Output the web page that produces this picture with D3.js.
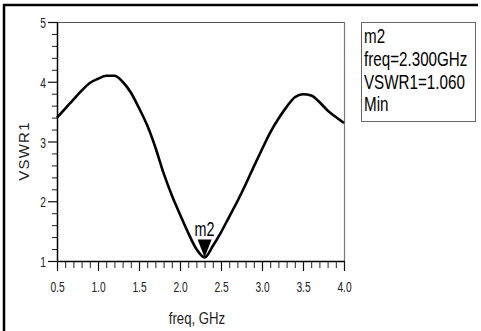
<!DOCTYPE html>
<html>
<head>
<meta charset="utf-8">
<script src="https://cdn.jsdelivr.net/npm/d3@7"></script>
<style>
html,body{margin:0;padding:0;background:#fff;}
svg{display:block;}
text{font-family:"Liberation Sans",Arial,sans-serif;}
</style>
</head>
<body>
<svg id="chart" width="481" height="331"></svg>
<script>
// ---- data ----
const freq = [0.5,0.6,0.7,0.8,0.9,1.0,1.1,1.2,1.3,1.4,1.5,1.6,1.7,1.8,1.9,2.0,2.1,2.2,2.3,2.4,2.5,2.6,2.7,2.8,2.9,3.0,3.1,3.2,3.3,3.4,3.5,3.6,3.7,3.8,3.9,4.0];
const vswr = [3.40,3.55,3.70,3.85,3.98,4.05,4.10,4.10,4.00,3.82,3.56,3.27,2.90,2.47,2.10,1.78,1.47,1.20,1.06,1.25,1.48,1.74,2.00,2.28,2.58,2.87,3.15,3.38,3.58,3.74,3.79,3.77,3.66,3.52,3.41,3.31];
const xTicks = [0.5,1.0,1.5,2.0,2.5,3.0,3.5,4.0];
const xTickLabels = ["0.5","1.0","1.5","2.0","2.5","3.0","3.5","4.0"];
const yTicks = [1,2,3,4,5];
const yTickLabels = ["1","2","3","4","5"];
const markerName = "m2";
const markerFreq = 2.3;
const markerValue = 1.06;
const legendLines = ["m2","freq=2.300GHz","VSWR1=1.060","Min"];
const xTitle = "freq, GHz";
const yTitle = "VSWR1";

// ---- layout ----
const svg = d3.select("#chart");
const L = 57, R = 344, T = 22, B = 261;
const x = d3.scaleLinear().domain([0.5,4.0]).range([L,R]);
const y = d3.scaleLinear().domain([1,5]).range([B,T]);

// condensed text helper: horizontal scale about the anchor point
function narrowText(sel, px, py, sx) {
  return sel.attr("x", px / sx).attr("y", py).attr("transform", `scale(${sx},1)`);
}

// outer frame (black, top & left)
svg.append("line").attr("x1",3).attr("x2",478).attr("y1",5).attr("y2",5).attr("stroke","#000").attr("stroke-width",2.5);
svg.append("line").attr("x1",4).attr("x2",4).attr("y1",4).attr("y2",331).attr("stroke","#000").attr("stroke-width",2.5);

// plot frame top/right
svg.append("line").attr("x1",L).attr("x2",R).attr("y1",T+0.5).attr("y2",T+0.5).attr("stroke","#555").attr("stroke-width",1.2);
svg.append("line").attr("x1",R+0.5).attr("x2",R+0.5).attr("y1",T).attr("y2",B).attr("stroke","#777").attr("stroke-width",1.2);

// minor ticks
const xMinor = d3.range(5,41).map(d=>d/10).filter(v=>!xTicks.some(t=>Math.abs(t-v)<1e-9));
const yMinor = d3.range(5,26).map(d=>d/5).filter(v=>!yTicks.some(t=>Math.abs(t-v)<1e-9));

svg.append("g").attr("transform",`translate(0,${B})`)
  .call(d3.axisBottom(x).tickValues(xMinor).tickSize(7).tickFormat(""))
  .call(g=>g.select(".domain").remove())
  .selectAll("line").attr("stroke","#222").attr("stroke-width",1);
svg.append("g").attr("transform",`translate(${L},0)`)
  .call(d3.axisLeft(y).tickValues(yMinor).tickSize(5).tickFormat(""))
  .call(g=>g.select(".domain").remove())
  .selectAll("line").attr("stroke","#222").attr("stroke-width",1);

// major axes
const sxT = 0.66;
const gx = svg.append("g").attr("transform",`translate(0,${B})`)
  .call(d3.axisBottom(x).tickValues(xTicks).tickSize(10).tickSizeOuter(0).tickFormat((d,i)=>xTickLabels[i]));
gx.select(".domain").attr("stroke","#000").attr("stroke-width",1.5);
gx.selectAll(".tick line").attr("stroke","#111").attr("stroke-width",1.2);
gx.selectAll(".tick text").attr("y",31).attr("dy",null).attr("fill","#222")
  .style("font-size","15.5px").attr("transform",`scale(${sxT},1)`);

const gy = svg.append("g").attr("transform",`translate(${L},0)`)
  .call(d3.axisLeft(y).tickValues(yTicks).tickSize(9).tickSizeOuter(0).tickFormat((d,i)=>yTickLabels[i]));
gy.select(".domain").attr("stroke","#000").attr("stroke-width",1.5);
gy.selectAll(".tick line").attr("stroke","#111").attr("stroke-width",1.2);
gy.selectAll(".tick text").attr("x",-11/sxT).attr("dy","0.36em").attr("fill","#222")
  .style("font-size","15.5px").attr("transform",`scale(${sxT},1)`);

// titles
narrowText(svg.append("text"), 197, 324, 0.8).attr("text-anchor","middle")
  .style("font-size","16.5px").attr("fill","#222").text(xTitle);
svg.append("text").attr("transform","translate(29,151) rotate(-90)").attr("text-anchor","middle")
  .style("font-size","15px").style("letter-spacing","1.2px").attr("fill","#222").text(yTitle);

// curve
const pts = freq.map((f,i)=>[f,vswr[i]]);
svg.append("path").datum(pts)
  .attr("d",d3.line().x(d=>x(d[0])).y(d=>y(d[1])).curve(d3.curveMonotoneX))
  .attr("fill","none").attr("stroke","#000").attr("stroke-width",2.6).attr("stroke-linejoin","round");

// marker
const mx = x(markerFreq), my = y(markerValue);
svg.append("path").attr("d",`M${mx-7},${my-18}L${mx+7},${my-18}L${mx},${my}Z`).attr("fill","#000");
narrowText(svg.append("text"), mx, my-21, 0.72).attr("text-anchor","middle")
  .style("font-size","20px").attr("fill","#000").text(markerName);

// legend box
svg.append("rect").attr("x",361.5).attr("y",22.5).attr("width",114).attr("height",99)
  .attr("fill","#fff").attr("stroke","#666").attr("stroke-width",1);
const lb = [43,66,89,111];
legendLines.forEach((t,i)=>{
  narrowText(svg.append("text"), 364, lb[i], 0.76).style("font-size","20px").attr("fill","#000").text(t);
});
</script>
</body>
</html>
